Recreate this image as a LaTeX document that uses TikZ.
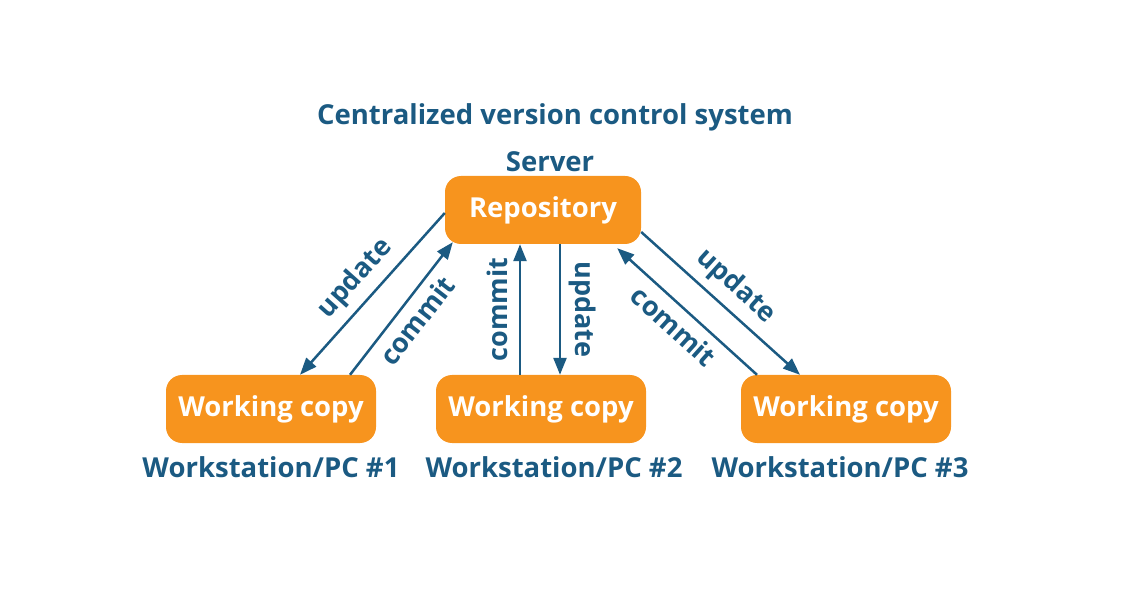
\documentclass[tikz,border=0pt]{standalone}
\usepackage{fontspec}
\setmainfont{Open Sans}
\usetikzlibrary{arrows.meta, positioning, calc}
\definecolor{cvsorange}{HTML}{F7941E}
\definecolor{cvsblue}{HTML}{1B5A82}

\begin{document}
\begin{tikzpicture}[x=1pt, y=-1pt, font=\bfseries\fontsize{27.5}{32}\selectfont, text=cvsblue]
  \tikzstyle{box}=[fill=cvsorange, rounded corners=16pt, align=center, minimum height=68pt, text=white]
  \tikzstyle{repobox}=[box, minimum width=196pt]
  \tikzstyle{wcbox}=[box, minimum width=210pt]
  \tikzstyle{flow}=[draw=cvsblue, line width=2.5pt, -{Triangle[length=17pt, width=13pt]}]
  \tikzstyle{flowlabel}=[font=\bfseries\fontsize{27}{32}\selectfont, sloped, inner sep=8pt]

  \useasboundingbox (0,0) rectangle (1128,612);

  % title
  \node (title) at (555,117) {Centralized version control system};

  % server
  \node[repobox] (repo) at (543,210) {Repository};
  \node (server) at (550,162) {Server};

  % workstations
  \node[wcbox] (wc1) at (271,409) {Working copy};
  \node[wcbox] (wc2) at (541,409) {Working copy};
  \node[wcbox] (wc3) at (846,409) {Working copy};
  \node (ws1) at (271,467) {Workstation/PC \#1};
  \node (ws2) at (554,467) {Workstation/PC \#2};
  \node (ws3) at (840,467) {Workstation/PC \#3};

  % arrows
  \draw[flow] ($(repo.west)+(0,3)$) -- ($(wc1.north)+(29,0)$)
    node[flowlabel, midway, above] {update};
  \draw[flow] ($(wc1.north)+(79,0)$) -- ($(repo.south west)+(8,-2)$)
    node[flowlabel, midway, below] {commit};
  \draw[flow] ($(wc2.north)+(-21,0)$) -- ($(repo.south)+(-23,0)$)
    node[flowlabel, midway, above, inner sep=11pt] {commit};
  \draw[flow] ($(repo.south)+(17,0)$) -- ($(wc2.north)+(19,0)$)
    node[flowlabel, midway, above] {update};
  \draw[flow] ($(repo.east)+(0,22)$) -- ($(wc3.north)+(-46,0)$)
    node[flowlabel, midway, above] {update};
  \draw[flow] ($(wc3.north)+(-89,0)$) -- ($(repo.south east)+(-24,4)$)
    node[flowlabel, midway, below] {commit};

\end{tikzpicture}
\end{document}
